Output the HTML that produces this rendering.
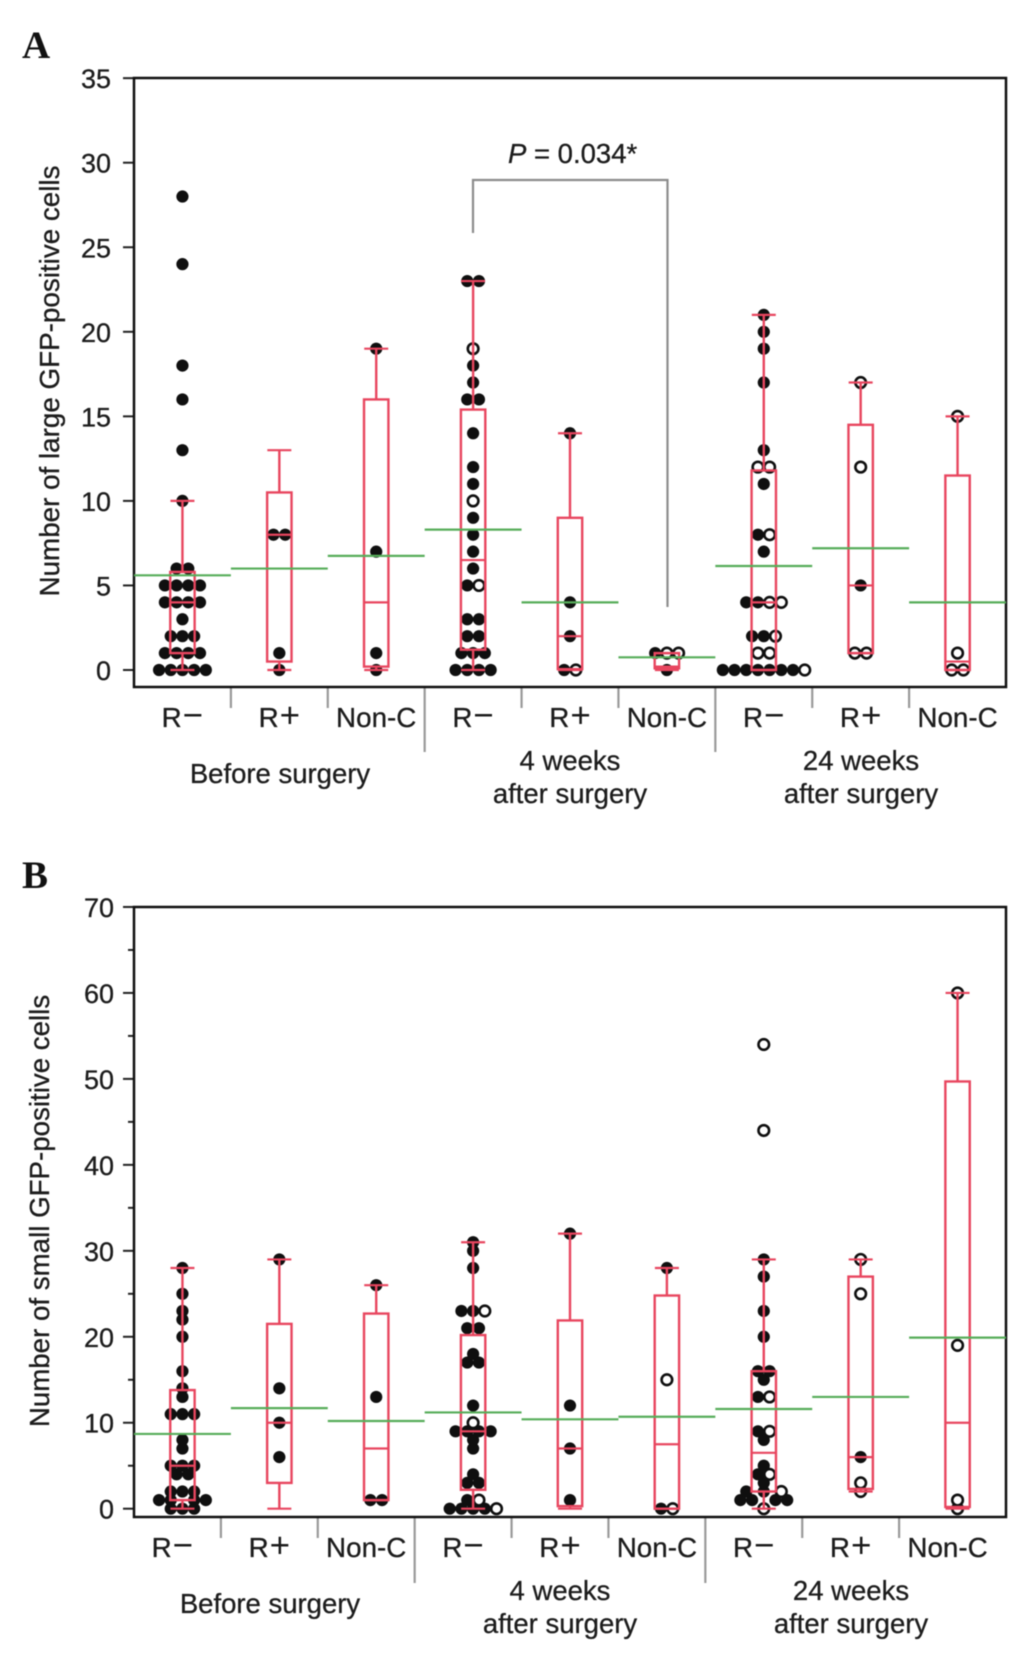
<!DOCTYPE html>
<html lang="en">
<head>
<meta charset="utf-8">
<title>GFP-positive cell counts</title>
<style>
html,body{margin:0;padding:0;background:#fff;}
#figure{display:block;width:1033px;height:1653px;filter:blur(0.5px);font-family:"Liberation Sans",sans-serif;fill:#1c1c1c;}
.tx{font-size:27px;font-family:"Liberation Sans",sans-serif;stroke:#1c1c1c;stroke-width:0.3px;}
.cat{font-size:27.8px;}
.panel-letter{font-family:"Liberation Serif",serif;font-weight:bold;font-size:39px;fill:#111;}
</style>
</head>
<body>
<svg id="figure" xmlns="http://www.w3.org/2000/svg" width="1033" height="1653" viewBox="0 0 1033 1653">
  <rect x="0" y="0" width="1033" height="1653" fill="#ffffff"/>
  <text class="panel-letter" x="22" y="58">A</text>
  <text class="panel-letter" x="22" y="888">B</text>
  <text class="tx" style="font-size:27.8px" transform="translate(59,381) rotate(-90)" text-anchor="middle">Number of large GFP-positive cells</text>
  <text class="tx" style="font-size:27.7px" transform="translate(49,1211) rotate(-90)" text-anchor="middle">Number of small GFP-positive cells</text>

  <text class="tx" style="font-size:27.5px" x="280" y="783" text-anchor="middle">Before surgery</text>
  <text class="tx" style="font-size:27.5px" x="570" y="770" text-anchor="middle">4 weeks</text>
  <text class="tx" style="font-size:27.5px" x="570" y="803" text-anchor="middle">after surgery</text>
  <text class="tx" style="font-size:27.5px" x="861" y="770" text-anchor="middle">24 weeks</text>
  <text class="tx" style="font-size:27.5px" x="861" y="803" text-anchor="middle">after surgery</text>

  <text class="tx" style="font-size:27.5px" x="270" y="1613" text-anchor="middle">Before surgery</text>
  <text class="tx" style="font-size:27.5px" x="560" y="1600" text-anchor="middle">4 weeks</text>
  <text class="tx" style="font-size:27.5px" x="560" y="1633" text-anchor="middle">after surgery</text>
  <text class="tx" style="font-size:27.5px" x="851" y="1600" text-anchor="middle">24 weeks</text>
  <text class="tx" style="font-size:27.5px" x="851" y="1633" text-anchor="middle">after surgery</text>

  <path d="M473 233V180H667.5V607" fill="none" stroke="#8c8c8c" stroke-width="2.2"/>
  <text class="tx" style="font-size:27.5px" x="508" y="163"><tspan font-style="italic">P</tspan> = 0.034*</text>

  <g id="panel-a"></g>
  <g id="panel-b"></g>
</svg>

<script>
// Shared categories
const categoryLabels = ['R\u2212','R+','Non-C','R\u2212','R+','Non-C','R\u2212','R+','Non-C'];

// Panel A: large GFP-positive cells
const largeTicks = [0,5,10,15,20,25,30,35];
const largeMinorTicks = [];
const largeFilled = [
  [28,24,18,16,13,10,6,6,5,5,5,5,4,4,4,4,3,2,2,2,1,1,1,1,0,0,0,0,0],
  [8,8,1,0],
  [19,7,1,0],
  [23,23,18,17,16,16,14,12,11,9,8,7,6,5,3,3,2,2,1,1,1,0,0,0,0],
  [14,4,2,0],
  [1,0],
  [21,20,19,17,13,11,8,7,4,4,2,2,0,0,0,0,0,0,0],
  [5],
  []
];
const largeOpen = [[],[],[],[19,10,5],[0],[1,1],[12,12,8,4,4,2,1,1,0],[17,12,1,1],[15,1,0,0]];
const largeWideRows = [[],[],[],[],[],[],[],[],[]];
const largeQ1 = [1,0.5,0.2,1.2,0.05,0.1,0,1,0];
const largeMedian = [4,8,4,6.5,2,0.2,4,5,0.5];
const largeQ3 = [5.8,10.5,16,15.4,9,1,11.8,14.5,11.5];
const largeWhiskerLow = [0,0,0,0,0,0,0,1,0];
const largeWhiskerHigh = [10,13,19,23,14,1,21,17,15];
const largeMean = [5.6,6,6.75,8.3,4,0.75,6.15,7.2,4];

// Panel B: small GFP-positive cells
const smallTicks = [0,10,20,30,40,50,60,70];
const smallMinorTicks = [5,15,25,35,45,55,65];
const smallFilled = [
  [28,25,23,22,20,16,14,13,11,11,11,8,7,5,5,5,4,4,2,2,2,1,1,1,1,0,0,0],
  [29,14,10,6],
  [26,13,1,1],
  [31,30,28,23,23,21,21,18,17,17,12,9,9,9,9,8,7,4,3,3,1,0,0,0,0],
  [32,12,7,1],
  [28,0],
  [29,27,23,20,16,16,15,13,9,8,5,4,3,2,2,1,1,1,1],
  [6],
  []
];
const smallOpen = [[],[],[],[23,10,1,0],[],[15,0],[54,44,13,9,4,2,0],[29,25,3,2],[60,19,1,0]];
const smallWideRows = [[1],[],[],[],[],[],[1,2],[],[]];
const smallQ1 = [1,3,1,2.2,0.3,0,2,2.3,0.2];
const smallMedian = [5,10,7,9,7,7.5,6.5,6,10];
const smallQ3 = [13.8,21.5,22.7,20.2,21.9,24.8,16,27,49.7];
const smallWhiskerLow = [0,0,1,0,0,0,0,2,0];
const smallWhiskerHigh = [28,29,26,31,32,28,29,29,60];
const smallMean = [8.7,11.7,10.2,11.2,10.4,10.7,11.6,13,19.9];

const SVGNS = 'http://www.w3.org/2000/svg';
const plotLeft = 134, plotRight = 1006, categoryCount = categoryLabels.length;
const RED = '#e8465f', GREEN = '#57ad5a', INK = '#0f0f0f', GREY = '#999999';

function xBand(i){ return plotLeft + i * (plotRight - plotLeft) / categoryCount; }
function xCenter(i){ return xBand(i + 0.5); }
function yLarge(v){ return 670 - v * 16.91; }
function ySmall(v){ return 1508.7 - v * 8.596; }

function make(tag, attrs, parent){
  const el = document.createElementNS(SVGNS, tag);
  for (const k in attrs) el.setAttribute(k, attrs[k]);
  parent.appendChild(el);
  return el;
}
function seg(x1, y1, x2, y2, stroke, width, parent){
  return make('line', {x1:x1, y1:y1, x2:x2, y2:y2, stroke:stroke, 'stroke-width':width}, parent);
}

// Beeswarm offset in half-dot slots for the i-th of n dots in one value row
function swarmSlot(i, n, wide){
  if (!wide) return (i - (n - 1) / 2) * 2;
  if (n % 2 === 1) return (i - (n - 1) / 2) * 3;
  const k = i - n / 2;
  return k < 0 ? k * 2 : (k + 1) * 2;
}

function drawDots(i, filled, open, wideRows, y, parent){
  const rows = {};
  filled.forEach(function(v){ (rows[v] = rows[v] || []).push(false); });
  open.forEach(function(v){ (rows[v] = rows[v] || []).push(true); });
  Object.keys(rows).forEach(function(key){
    const v = Number(key), row = rows[key], wide = wideRows.indexOf(v) >= 0;
    row.forEach(function(isOpen, j){
      const cx = xCenter(i) + swarmSlot(j, row.length, wide) * 5.85;
      const dot = make('circle', {
        cx: cx, cy: y(v), r: isOpen ? 5.3 : 6.1,
        fill: isOpen ? '#ffffff' : INK,
        stroke: isOpen ? INK : 'none',
        'stroke-width': isOpen ? 2.6 : 0
      }, parent);
      
      
    });
  });
}

function drawBox(i, q1, med, q3, lo, hi, y, parent){
  const c = xCenter(i), boxHalf = 12.2, capHalf = 12;
  const g = make('g', {}, parent);
  
  
  seg(c, y(q3), c, y(hi), RED, 2.4, g);
  seg(c, y(q1), c, y(lo), RED, 2.4, g);
  seg(c - capHalf, y(hi), c + capHalf, y(hi), RED, 2.2, g);
  seg(c - capHalf, y(lo), c + capHalf, y(lo), RED, 2.2, g);
  make('rect', {x:c - boxHalf, y:y(q3), width:boxHalf * 2, height:y(q1) - y(q3), fill:'none', stroke:RED, 'stroke-width':2.4}, g);
  seg(c - boxHalf, y(med), c + boxHalf, y(med), RED, 2.2, g);
}

function drawAxes(parent, y, ticks, minorTicks, top, bottom, labelRight, labelShift, sepBottom, sepLongBottom, labelBaseline){
  ticks.forEach(function(t){
    const tick = seg(123, y(t), plotLeft, y(t), '#222', 2, parent);
    
    
    const label = make('text', {x:labelRight, y:y(t) + 10, 'text-anchor':'end', class:'tx'}, parent);
    label.textContent = String(t);
    
    
  });
  minorTicks.forEach(function(t){
    const tick = seg(128, y(t), plotLeft, y(t), '#222', 2, parent);
    
    
  });
  for (let i = 1; i < categoryCount; i++) {
    const isLong = i % 3 === 0;
    const sep = seg(xBand(i) + labelShift, bottom, xBand(i) + labelShift, isLong ? sepLongBottom : sepBottom, GREY, 2.2, parent);
    
    
  }
  categoryLabels.forEach(function(name, i){
    const label = make('text', {x:xCenter(i) + labelShift, y:labelBaseline, 'text-anchor':'middle', class:'tx cat'}, parent);
    if (name.charAt(0) === 'R') {
      const letter = make('tspan', {}, label);
      letter.textContent = name.charAt(0);
      const sign = make('tspan', {dx:1, 'font-size':35, style:'stroke-width:0'}, label);
      sign.textContent = name.charAt(1);
    } else {
      label.textContent = name;
    }
    
    
  });
  const frame = make('rect', {x:plotLeft, y:top, width:plotRight - plotLeft, height:bottom - top, fill:'none', stroke:'#0f0f0f', 'stroke-width':2.5}, parent);
  
  
}

function drawMeans(means, y, parent){
  means.forEach(function(m, i){
    const line = seg(xBand(i), y(m), xBand(i + 1), y(m), GREEN, 2.2, parent);
    
    
  });
}

const panelA = document.getElementById('panel-a');
drawAxes(panelA, yLarge, largeTicks, largeMinorTicks, 78, 687, 111, 0, 708, 752, 727);
largeFilled.forEach(function(f, i){ drawDots(i, f, largeOpen[i], largeWideRows[i], yLarge, panelA); });
largeFilled.forEach(function(f, i){ drawBox(i, largeQ1[i], largeMedian[i], largeQ3[i], largeWhiskerLow[i], largeWhiskerHigh[i], yLarge, panelA); });
drawMeans(largeMean, yLarge, panelA);

const panelB = document.getElementById('panel-b');
drawAxes(panelB, ySmall, smallTicks, smallMinorTicks, 907, 1517, 114, -10, 1538, 1583, 1557);
smallFilled.forEach(function(f, i){ drawDots(i, f, smallOpen[i], smallWideRows[i], ySmall, panelB); });
smallFilled.forEach(function(f, i){ drawBox(i, smallQ1[i], smallMedian[i], smallQ3[i], smallWhiskerLow[i], smallWhiskerHigh[i], ySmall, panelB); });
drawMeans(smallMean, ySmall, panelB);
</script>
</body>
</html>
